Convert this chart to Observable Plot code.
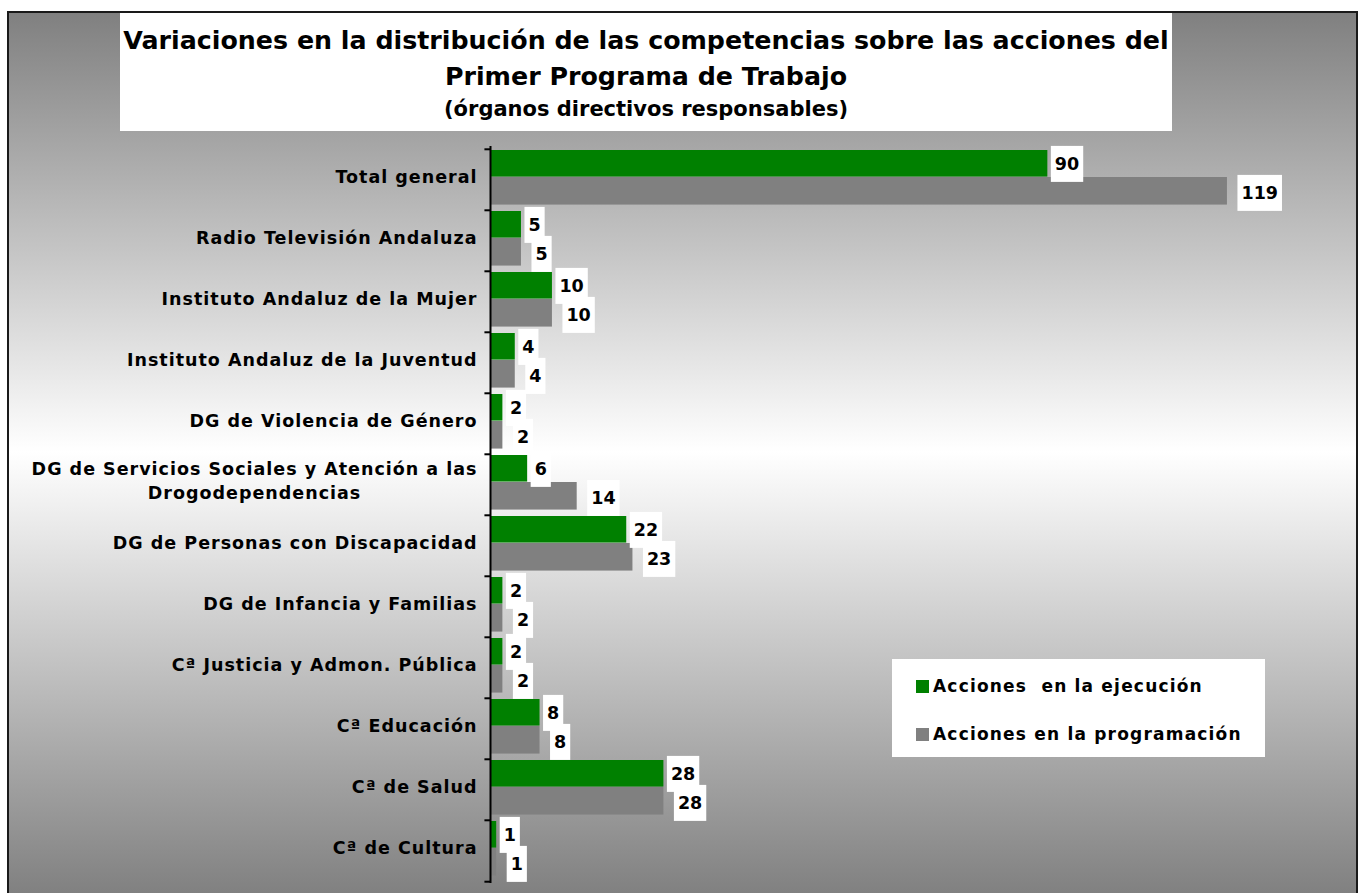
<!DOCTYPE html>
<html><head><meta charset="utf-8">
<script src="https://cdn.jsdelivr.net/npm/d3@7"></script>
<script src="https://cdn.jsdelivr.net/npm/@observablehq/plot@0.6"></script>
<style>
body{margin:0;background:#fff;}
#wrap{position:relative;width:1362px;height:893px;overflow:hidden;font-family:"DejaVu Sans",Verdana,sans-serif;color:#000;}
#frame{position:absolute;left:7px;top:11px;width:1347px;height:900px;border:2px solid #1a1a1a;background:linear-gradient(#808080 0px,#ffffff 439px,#808080 882px);}
#title{position:absolute;left:120px;top:13px;width:1052px;height:118px;background:#fff;font-weight:bold;}
#title div{position:absolute;left:0;width:100%;text-align:center;white-space:nowrap;}
#legend{position:absolute;left:892px;top:659px;width:373px;height:98px;background:#fff;font-weight:bold;font-size:17px;letter-spacing:1.2px;}
#legend .item{position:absolute;left:24px;height:14px;display:flex;align-items:center;white-space:pre;}
#legend .sw{width:13px;height:13px;margin-right:4px;}
#chart{position:absolute;left:0;top:0;}
</style></head>
<body>
<div id="wrap">
  <div id="frame"></div>
  <div id="title">
    <div style="top:13px;font-size:25.3px;line-height:30px">Variaciones en la distribución de las competencias sobre las acciones del</div>
    <div style="top:49px;font-size:25.3px;line-height:30px">Primer Programa de Trabajo</div>
    <div style="top:83px;font-size:21px;line-height:26px">(órganos directivos responsables)</div>
  </div>
  <div id="chart"></div>
  <div id="legend"></div>
</div>
<script>
const categorias = [
  "Total general",
  "Radio Televisión Andaluza",
  "Instituto Andaluz de la Mujer ",
  "Instituto Andaluz de la Juventud",
  "DG de Violencia de Género",
  "DG de Servicios Sociales y Atención a las\nDrogodependencias",
  "DG de Personas con Discapacidad",
  "DG de Infancia y Familias",
  "Cª Justicia y Admon. Pública",
  "Cª Educación",
  "Cª de Salud",
  "Cª de Cultura"
];
const series = ["Acciones  en la ejecución", "Acciones en la programación"];
const colores = ["#008000", "#808080"];
const ejecucion =    [90, 5, 10, 4, 2, 6, 22, 2, 2, 8, 28, 1];
const programacion = [119, 5, 10, 4, 2, 14, 23, 2, 2, 8, 28, 1];

const W = 1362, H = 893, mL = 490, mT = 146, mB = 10, mR = 5;
const bw = (H - mT - mB) / categorias.length;

const datosEj = categorias.map((c, i) => ({cat: c, serie: series[0], valor: ejecucion[i]}));
const datosPr = categorias.map((c, i) => ({cat: c, serie: series[1], valor: programacion[i]}));
const simples = categorias.filter(c => !c.includes("\n"));
const multi = categorias.filter(c => c.includes("\n"));

const fs = 17.5, lsp = 1.0;
const ctx = document.createElement("canvas").getContext("2d");
ctx.font = `bold ${fs}px 'DejaVu Sans'`;
const measure = s => ctx.measureText(s).width + lsp * s.length;
const multiW = multi.length ? Math.max(...multi[0].split("\n").map(measure)) : 0;

const svg = Plot.plot({
  width: W, height: H,
  marginLeft: mL, marginTop: mT, marginBottom: mB, marginRight: mR,
  style: {background: "transparent", fontFamily: "'DejaVu Sans', Verdana, sans-serif", overflow: "visible"},
  x: {axis: null, domain: [0, 140]},
  y: {axis: null, domain: categorias, padding: 0},
  color: {domain: series, range: colores},
  marks: [
    Plot.barX(datosEj, {x: "valor", y: "cat", fill: "serie", insetTop: 1, insetBottom: bw - 28}),
    Plot.barX(datosPr, {x: "valor", y: "cat", fill: "serie", insetTop: 28, insetBottom: bw - 56}),
    Plot.ruleX([0], {stroke: "#000", strokeWidth: 2}),
    Plot.ruleY(categorias, {y: d => d, x1: -0.9, x2: 0, dy: -bw / 2, stroke: "#000", strokeWidth: 2}),
    Plot.ruleY(categorias.slice(-1), {y: d => d, x1: -0.9, x2: 0, dy: bw / 2, stroke: "#000", strokeWidth: 2}),
    Plot.text(simples, {x: d => 0, y: d => d, text: d => d.trim(), textAnchor: "end", dx: -13, dy: -3,
      fontSize: fs, fontWeight: "bold", fill: "#000", ariaDescription: "etiquetas"}),
    Plot.text(multi, {x: d => 0, y: d => d, text: d => d, textAnchor: "middle", dx: -13 - multiW / 2, dy: -6,
      lineHeight: 1.4, fontSize: fs, fontWeight: "bold", fill: "#000", ariaDescription: "etiquetas"}),
    Plot.text(datosEj, {x: "valor", y: "cat", text: d => String(d.valor), textAnchor: "start", dx: 7, dy: 15 - bw / 2,
      fontSize: 17.5, fontWeight: "bold", fill: "#000", ariaDescription: "valor"}),
    Plot.text(datosPr, {x: "valor", y: "cat", text: d => String(d.valor), textAnchor: "start", dx: 14, dy: 44 - bw / 2,
      fontSize: 17.5, fontWeight: "bold", fill: "#000", ariaDescription: "valor"})
  ]
});
document.getElementById("chart").appendChild(svg);

svg.querySelectorAll("g[aria-description='etiquetas'] text").forEach(t => t.style.letterSpacing = lsp + "px");

// white boxes behind value labels
svg.querySelectorAll("g[aria-description='valor']").forEach(g => {
  g.querySelectorAll("text").forEach(t => {
    const b = t.getBBox();
    const r = document.createElementNS("http://www.w3.org/2000/svg", "rect");
    const cy = b.y + b.height / 2;
    r.setAttribute("x", b.x - 4);
    r.setAttribute("y", cy - 18);
    r.setAttribute("width", b.width + 8);
    r.setAttribute("height", 36);
    r.setAttribute("fill", "#fff");
    if (t.getAttribute("transform")) r.setAttribute("transform", t.getAttribute("transform"));
    t.parentNode.insertBefore(r, t);
  });
});

// legend
const leg = document.getElementById("legend");
series.forEach((s, i) => {
  const it = document.createElement("div");
  it.className = "item";
  it.style.top = (20 + i * 48) + "px";
  const sw = document.createElement("span");
  sw.className = "sw";
  sw.style.background = colores[i];
  const tx = document.createElement("span");
  tx.textContent = s;
  it.appendChild(sw); it.appendChild(tx);
  leg.appendChild(it);
});
</script>
</body></html>
